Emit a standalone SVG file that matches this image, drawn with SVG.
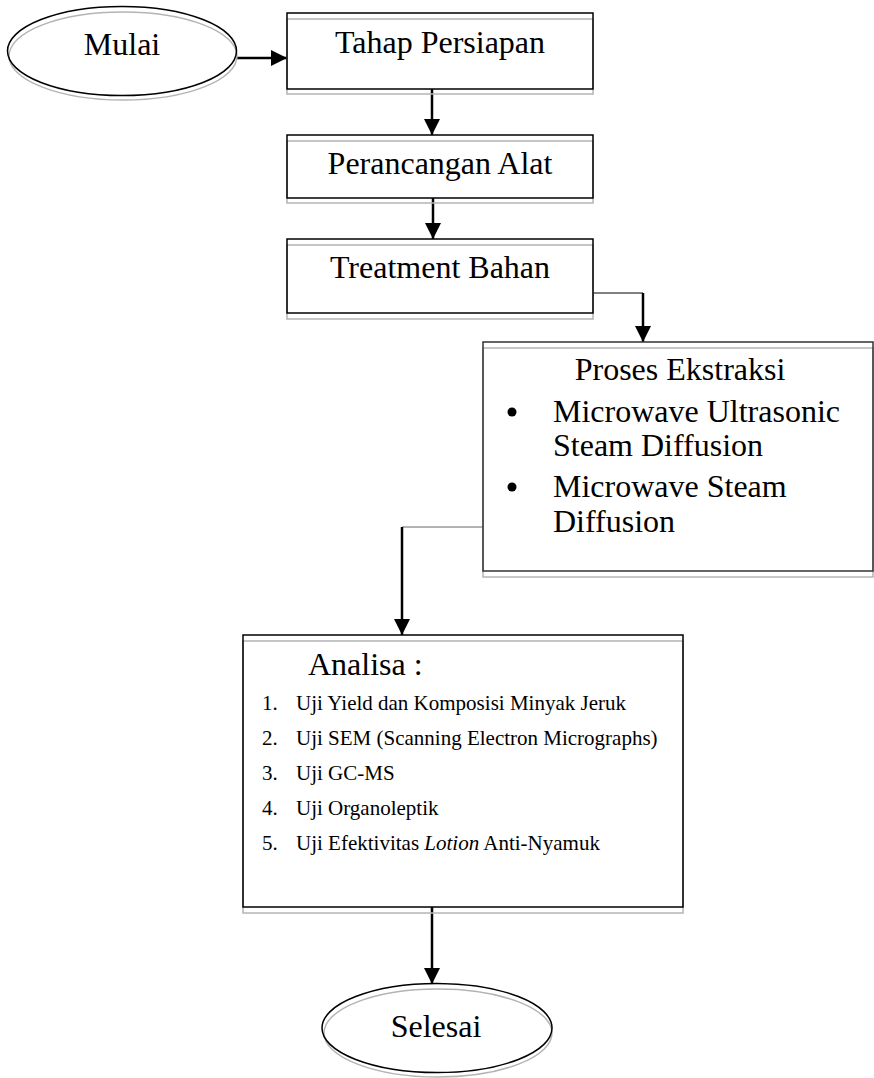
<svg xmlns="http://www.w3.org/2000/svg" width="874" height="1078" viewBox="0 0 874 1078">
<style>
.t{font-family:"Liberation Serif","Times New Roman",serif;font-size:32px;fill:#000}
.l{font-family:"Liberation Serif","Times New Roman",serif;font-size:21px;fill:#000}
.box{fill:none;stroke:#000;stroke-width:1.5}
.sh{fill:none;stroke:#b4b4b4;stroke-width:1.5}
.arr{fill:none;stroke:#000;stroke-width:2.5}
.thin{fill:none;stroke:#000;stroke-width:1}
.thing{fill:none;stroke:#666;stroke-width:1}
</style>
<defs>
<marker id="ah" viewBox="0 0 10 10" refX="10" refY="5" markerWidth="6.5" markerHeight="6.5" orient="auto" markerUnits="strokeWidth">
<path d="M0,0 L10,5 L0,10 z" fill="#000"/>
</marker>
</defs>
<rect width="874" height="1078" fill="#fff"/>
<g id="connectors">
<line class="arr" x1="237" y1="58" x2="287" y2="58" marker-end="url(#ah)"/>
<line class="arr" x1="432" y1="89" x2="432" y2="135" marker-end="url(#ah)"/>
<line class="arr" x1="433" y1="198" x2="433" y2="239" marker-end="url(#ah)"/>
<polyline class="thin" points="593,293 643,293"/>
<line class="arr" x1="643" y1="293" x2="643" y2="342" marker-end="url(#ah)"/>
<polyline class="thing" points="483,527 402,527"/>
<line class="arr" x1="402" y1="527" x2="402" y2="635" marker-end="url(#ah)"/>
<line class="arr" x1="432" y1="907" x2="432" y2="984" marker-end="url(#ah)"/>
</g>
<g id="mulai">
<ellipse class="sh" cx="123" cy="56" rx="114" ry="44"/>
<ellipse cx="122" cy="51" rx="114.5" ry="44.5" fill="none" stroke="#000" stroke-width="1.5"/>
<text class="t" x="122" y="55" text-anchor="middle">Mulai</text>
</g>
<g id="tahap">
<rect class="sh" x="287" y="19" width="306" height="75"/>
<rect class="box" x="287" y="13" width="306" height="76"/>
<text class="t" x="440" y="53" text-anchor="middle">Tahap Persiapan</text>
</g>
<g id="perancangan">
<rect class="sh" x="287" y="141" width="306" height="62"/>
<rect class="box" x="287" y="135" width="306" height="63"/>
<text class="t" x="440" y="174" text-anchor="middle">Perancangan Alat</text>
</g>
<g id="treatment">
<rect class="sh" x="287" y="245" width="306" height="74"/>
<rect class="box" x="287" y="239" width="306" height="74"/>
<text class="t" x="440" y="278" text-anchor="middle">Treatment Bahan</text>
</g>
<g id="proses">
<rect class="sh" x="483" y="348" width="390" height="229"/>
<rect x="483" y="342" width="390" height="229" fill="none" stroke="#333" stroke-width="1.5"/>
<text class="t" x="680" y="380" text-anchor="middle">Proses Ekstraksi</text>
<circle cx="512" cy="412" r="4.5" fill="#000"/>
<text class="t" x="553" y="422">Microwave Ultrasonic</text>
<text class="t" x="553" y="456">Steam Diffusion</text>
<circle cx="512" cy="487" r="4.5" fill="#000"/>
<text class="t" x="553" y="497">Microwave Steam</text>
<text class="t" x="553" y="532">Diffusion</text>
</g>
<g id="analisa">
<rect class="sh" x="243" y="641" width="440" height="272"/>
<rect class="box" x="243" y="635" width="440" height="272"/>
<text class="t" x="308" y="675">Analisa :</text>
<text class="l" x="262" y="710">1.</text><text class="l" x="296" y="710">Uji Yield dan Komposisi Minyak Jeruk</text>
<text class="l" x="262" y="745">2.</text><text class="l" x="296" y="745">Uji SEM (Scanning Electron Micrographs)</text>
<text class="l" x="262" y="780">3.</text><text class="l" x="296" y="780">Uji GC-MS</text>
<text class="l" x="262" y="815">4.</text><text class="l" x="296" y="815">Uji Organoleptik</text>
<text class="l" x="262" y="850">5.</text><text class="l" x="296" y="850">Uji Efektivitas <tspan font-style="italic">Lotion</tspan> Anti-Nyamuk</text>
</g>
<g id="selesai">
<ellipse class="sh" cx="438" cy="1033" rx="114" ry="44"/>
<ellipse cx="437" cy="1028" rx="115" ry="44.5" fill="none" stroke="#000" stroke-width="1.5"/>
<text class="t" x="436" y="1037" text-anchor="middle">Selesai</text>
</g>
</svg>
